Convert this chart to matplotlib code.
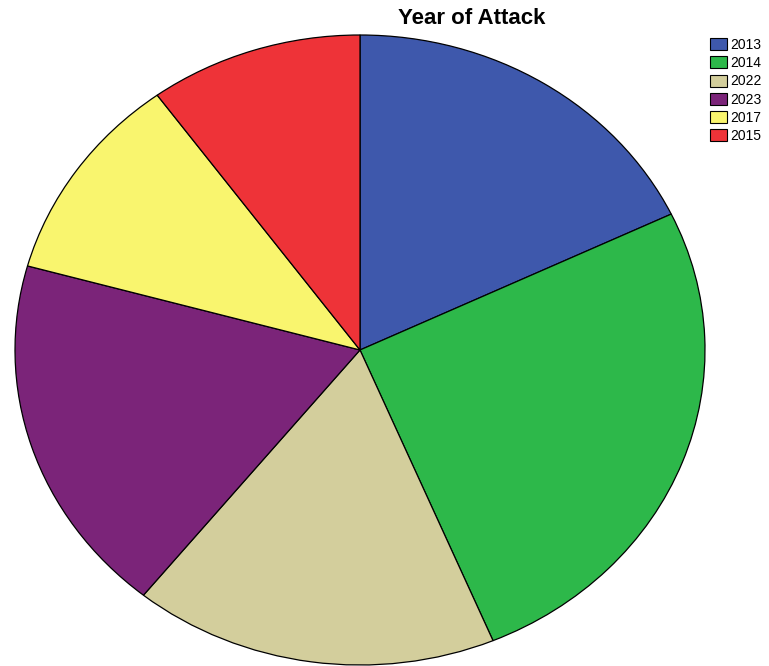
import matplotlib.pyplot as plt

years = ['2013', '2014', '2022', '2023', '2017', '2015']
shares = [17.9, 25.8, 17.1, 18.5, 10.7, 10.0]
colors = ['#3E58AC', '#2DB84A', '#D3CE9C', '#7B2479', '#F9F56E', '#EE3338']

plt.rcParams['font.family'] = ['Liberation Sans', 'DejaVu Sans']

fig = plt.figure(figsize=(7.69, 6.66), dpi=100)
# pie is drawn as a slight ellipse, so axes aspect is left free
ax = fig.add_axes([15 / 769, 1 / 666, 690 / 769, 630 / 666])
wedges, _ = ax.pie(shares, colors=colors, startangle=90, counterclock=False,
                   wedgeprops=dict(edgecolor='black', linewidth=0.9))
ax.set_aspect('auto')
ax.set_xlim(-1, 1)
ax.set_ylim(-1, 1)
ax.axis('off')

fig.text(472 / 769, 1 - 18 / 666, 'Year of Attack', ha='center', va='center',
         fontsize=16, fontweight='bold')

leg = fig.legend(wedges, years, loc='upper left',
                 bbox_to_anchor=(710 / 769, 1 - 38 / 666), frameon=False,
                 fontsize=10, handlelength=1.2, handleheight=0.95,
                 labelspacing=0.3, handletextpad=0.25, borderpad=0,
                 borderaxespad=0)
for h in leg.legend_handles:
    h.set_linewidth(0.8)

fig.savefig('out.png', dpi=100)
